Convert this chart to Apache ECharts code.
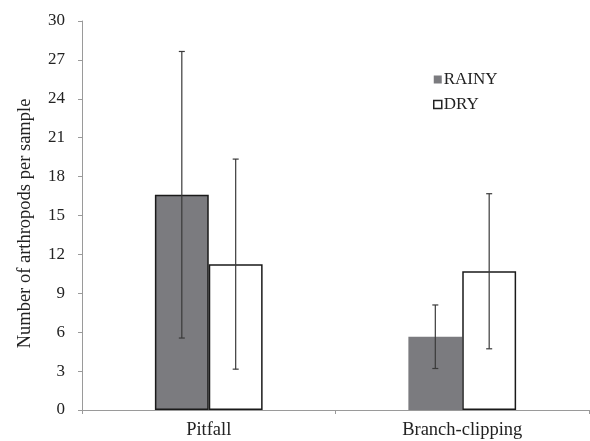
<!DOCTYPE html>
<html><head><meta charset="utf-8">
<script src="https://cdn.jsdelivr.net/npm/echarts@6/dist/echarts.min.js"></script>
<style>html,body{margin:0;padding:0;background:#fff}#c{width:590px;height:441px}</style>
</head><body><div id="c"></div>
<script>
var categories = ['Pitfall', 'Branch-clipping'];
var rainyMean = [16.6, 5.65];
var rainyErr = [11.05, 2.45];
var dryMean = [11.25, 10.7];
var dryErr = [8.1, 5.98];
var yTicks = [0, 3, 6, 9, 12, 15, 18, 21, 24, 27, 30];

var FONT = '"Liberation Serif", "Times New Roman", serif';
var CATGAP = 0.575;

function errSeries(name, means, errs, side) {
  var data = means.map(function (m, i) { return [i, m - errs[i], m + errs[i]]; });
  return {
    type: 'custom', name: name + '_err', z: 10, silent: true,
    data: data,
    encode: { x: 0, y: [1, 2] },
    renderItem: function (params, api) {
      var i = api.value(0);
      var lo = api.coord([i, api.value(1)]);
      var hi = api.coord([i, api.value(2)]);
      var band = api.size([1, 0])[0];
      var bw = band * (1 - CATGAP) / 2;
      var x = lo[0] + side * bw / 2;
      var cap = 3;
      var st = { stroke: '#3a3a3a', lineWidth: 1.2 };
      return { type: 'group', children: [
        { type: 'line', shape: { x1: x, y1: lo[1], x2: x, y2: hi[1] }, style: st },
        { type: 'line', shape: { x1: x - cap, y1: lo[1], x2: x + cap, y2: lo[1] }, style: st },
        { type: 'line', shape: { x1: x - cap, y1: hi[1], x2: x + cap, y2: hi[1] }, style: st }
      ]};
    }
  };
}

var chart = echarts.init(document.getElementById('c'));
chart.setOption({
  backgroundColor: '#fff',
  animation: false,
  textStyle: { fontFamily: FONT },
  grid: { left: 82, right: 1, top: 21, bottom: 31, containLabel: false },
  legend: {
    orient: 'vertical', left: 428, top: 66, itemGap: 8,
    itemWidth: 8, itemHeight: 8,
    textStyle: { fontFamily: FONT, fontSize: 17, color: '#222', padding: [0, 0, 0, -3] },
    data: [
      { name: 'RAINY', icon: 'rect', itemStyle: { color: '#7b7b7f', borderWidth: 0 } },
      { name: 'DRY', icon: 'rect', itemStyle: { color: '#fff', borderColor: '#222', borderWidth: 1.5 } }
    ]
  },
  xAxis: {
    type: 'category', data: categories,
    axisLine: { lineStyle: { color: '#9a9a9a', width: 1 } },
    axisTick: { show: true, length: 4, lineStyle: { color: '#9a9a9a' } },
    axisLabel: { fontFamily: FONT, fontSize: 18.5, color: '#222', margin: 11 }
  },
  yAxis: {
    type: 'value', min: 0, max: 30, interval: 3,
    name: 'Number of arthropods per sample', nameLocation: 'middle', nameGap: 47,
    nameTextStyle: { fontFamily: FONT, fontSize: 18.5, color: '#222', padding: [0, 16, 0, 0] },
    splitLine: { show: false },
    axisLine: { show: true, lineStyle: { color: '#9a9a9a', width: 1 } },
    axisTick: { show: true, length: 4, lineStyle: { color: '#9a9a9a' } },
    axisLabel: { fontFamily: FONT, fontSize: 17, color: '#222', margin: 17,
      formatter: function (v) { return yTicks.indexOf(v) >= 0 ? String(v) : ''; } }
  },
  series: [
    { type: 'bar', name: 'RAINY', barGap: '0%', barCategoryGap: (CATGAP * 100) + '%',
      data: rainyMean.map(function (v, i) {
        return { value: v, itemStyle: i === 0 ? { color: '#7b7b7f', borderColor: '#1a1a1a', borderWidth: 1.5 } : { color: '#7b7b7f', borderWidth: 0 } };
      }) },
    { type: 'bar', name: 'DRY',
      itemStyle: { color: '#fff', borderColor: '#1a1a1a', borderWidth: 1.5 },
      data: dryMean },
    errSeries('RAINY', rainyMean, rainyErr, -1),
    errSeries('DRY', dryMean, dryErr, 1)
  ]
});
</script></body></html>
